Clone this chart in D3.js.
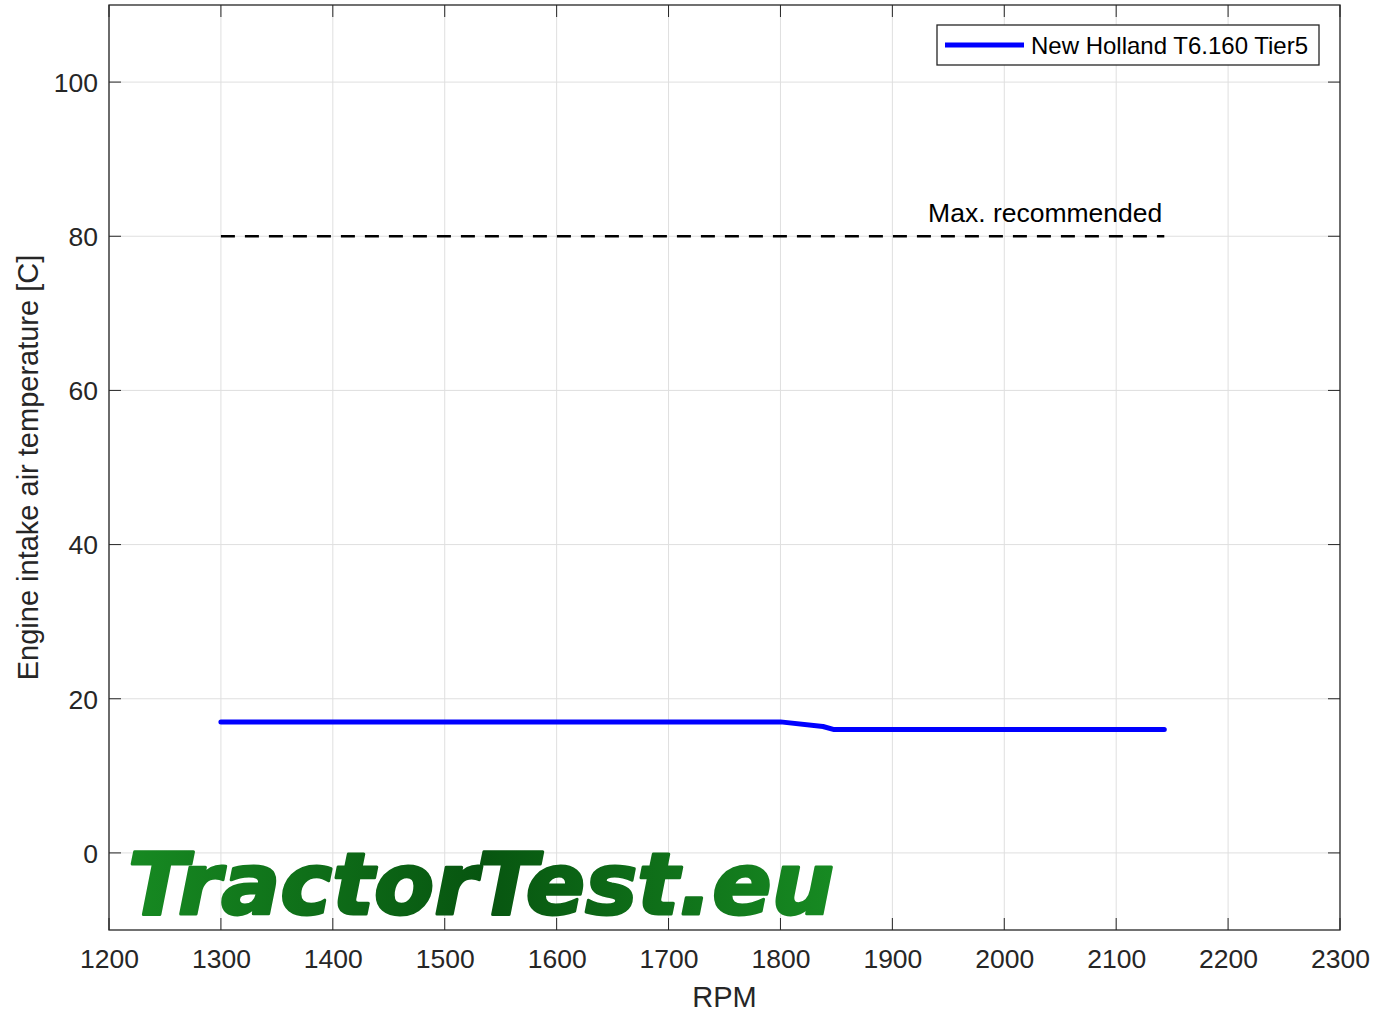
<!DOCTYPE html>
<html>
<head>
<meta charset="utf-8">
<script src="https://cdn.jsdelivr.net/npm/d3@7"></script>
<style>
body { margin: 0; background: #fff; }
text { font-family: "Liberation Sans", Arial, sans-serif; }
</style>
</head>
<body>
<svg width="1375" height="1017"></svg>
<script>
var rpm = [1300, 1400, 1500, 1600, 1700, 1800, 1838, 1848, 1900, 2000, 2100, 2143];
var temp = [17, 17, 17, 17, 17, 17, 16.4, 16, 16, 16, 16, 16];
var maxRpm = [1300, 2143];
var maxTemp = 80;
var xTicks = [1200, 1300, 1400, 1500, 1600, 1700, 1800, 1900, 2000, 2100, 2200, 2300];
var yTicks = [0, 20, 40, 60, 80, 100];
var seriesName = 'New Holland T6.160 Tier5';

var svg = d3.select('svg');
var pLeft = 109, pRight = 1340, pTop = 5, pBottom = 930;

var x = d3.scaleLinear().domain([1200, 2300]).range([pLeft, pRight]);
var y = d3.scaleLinear().domain([-10, 110]).range([pBottom, pTop]);

// grid
svg.append('g').selectAll('line')
    .data(xTicks)
    .enter().append('line')
    .attr('x1', function(d) { return x(d); })
    .attr('x2', function(d) { return x(d); })
    .attr('y1', pTop).attr('y2', pBottom)
    .attr('stroke', '#dfdfdf').attr('stroke-width', 1);
svg.append('g').selectAll('line')
    .data(yTicks)
    .enter().append('line')
    .attr('y1', function(d) { return y(d); })
    .attr('y2', function(d) { return y(d); })
    .attr('x1', pLeft).attr('x2', pRight)
    .attr('stroke', '#dfdfdf').attr('stroke-width', 1);

// watermark
var defs = svg.append('defs');
var grad = defs.append('linearGradient').attr('id', 'wm')
    .attr('x1', '0%').attr('x2', '100%').attr('y1', '0%').attr('y2', '0%');
grad.append('stop').attr('offset', '0%').attr('stop-color', '#178a22');
grad.append('stop').attr('offset', '50%').attr('stop-color', '#075510');
grad.append('stop').attr('offset', '100%').attr('stop-color', '#178a22');
svg.append('text')
    .attr('x', 128).attr('y', 914)
    .attr('textLength', 706)
    .attr('lengthAdjust', 'spacingAndGlyphs')
    .style('font-family', '"DejaVu Sans", sans-serif')
    .style('font-weight', 'bold')
    .style('font-style', 'oblique')
    .style('font-size', '86px')
    .attr('fill', 'url(#wm)')
    .attr('stroke', 'url(#wm)')
    .attr('stroke-width', 3)
    .attr('stroke-linejoin', 'round')
    .text('TractorTest.eu');

// axes
var xAxis = d3.axisBottom(x).tickValues(xTicks).tickSize(0).tickPadding(0).tickFormat(d3.format('d'));
var gx = svg.append('g').attr('transform', 'translate(0,' + pBottom + ')').call(xAxis);
gx.select('.domain').remove();
gx.selectAll('text').attr('dy', 38).style('font-size', '26.5px').attr('fill', '#262626');

var yAxis = d3.axisLeft(y).tickValues(yTicks).tickSize(0).tickPadding(11);
var gy = svg.append('g').attr('transform', 'translate(' + pLeft + ',0)').call(yAxis);
gy.select('.domain').remove();
gy.selectAll('text').attr('dy', '0.35em').style('font-size', '26.5px').attr('fill', '#262626');

// tick marks inside the box (all four sides)
var tk = 12;
svg.append('g').selectAll('line')
    .data(xTicks).enter().append('line')
    .attr('x1', function(d) { return x(d); }).attr('x2', function(d) { return x(d); })
    .attr('y1', pBottom).attr('y2', pBottom - tk)
    .attr('stroke', '#262626');
svg.append('g').selectAll('line')
    .data(xTicks).enter().append('line')
    .attr('x1', function(d) { return x(d); }).attr('x2', function(d) { return x(d); })
    .attr('y1', pTop).attr('y2', pTop + tk)
    .attr('stroke', '#262626');
svg.append('g').selectAll('line')
    .data(yTicks).enter().append('line')
    .attr('y1', function(d) { return y(d); }).attr('y2', function(d) { return y(d); })
    .attr('x1', pLeft).attr('x2', pLeft + tk)
    .attr('stroke', '#262626');
svg.append('g').selectAll('line')
    .data(yTicks).enter().append('line')
    .attr('y1', function(d) { return y(d); }).attr('y2', function(d) { return y(d); })
    .attr('x1', pRight).attr('x2', pRight - tk)
    .attr('stroke', '#262626');

svg.append('rect')
    .attr('x', pLeft).attr('y', pTop)
    .attr('width', pRight - pLeft).attr('height', pBottom - pTop)
    .attr('fill', 'none').attr('stroke', '#262626').attr('stroke-width', 1.3);

// axis labels
svg.append('text')
    .attr('x', (pLeft + pRight) / 2).attr('y', 1007)
    .attr('text-anchor', 'middle')
    .style('font-size', '29px').attr('fill', '#262626')
    .text('RPM');
svg.append('text')
    .attr('transform', 'translate(38,' + ((pTop + pBottom) / 2) + ') rotate(-90)')
    .attr('text-anchor', 'middle')
    .style('font-size', '29px').attr('fill', '#262626')
    .text('Engine intake air temperature [C]');

// max recommended line
svg.append('line')
    .attr('x1', x(maxRpm[0])).attr('x2', x(maxRpm[1]))
    .attr('y1', y(maxTemp)).attr('y2', y(maxTemp))
    .attr('stroke', '#000').attr('stroke-width', 2.5)
    .attr('stroke-dasharray', '14,10');
svg.append('text')
    .attr('x', x(maxRpm[1]) - 2).attr('y', y(maxTemp) - 14)
    .attr('text-anchor', 'end')
    .style('font-size', '26.5px').attr('fill', '#000')
    .text('Max. recommended');

// series
var line = d3.line()
    .x(function(d, i) { return x(rpm[i]); })
    .y(function(d) { return y(d); });
svg.append('path')
    .datum(temp)
    .attr('d', line)
    .attr('fill', 'none')
    .attr('stroke', '#0000ff')
    .attr('stroke-width', 5)
    .attr('stroke-linejoin', 'round')
    .attr('stroke-linecap', 'round');

// legend
var lg = svg.append('g');
lg.append('rect')
    .attr('x', 937).attr('y', 25).attr('width', 382).attr('height', 40)
    .attr('fill', '#fff').attr('stroke', '#262626').attr('stroke-width', 1.3);
lg.append('line')
    .attr('x1', 945).attr('x2', 1024).attr('y1', 45).attr('y2', 45)
    .attr('stroke', '#0000ff').attr('stroke-width', 5);
lg.append('text')
    .attr('x', 1031).attr('y', 54)
    .style('font-size', '24px').attr('fill', '#000')
    .text(seriesName);
</script>
</body>
</html>
